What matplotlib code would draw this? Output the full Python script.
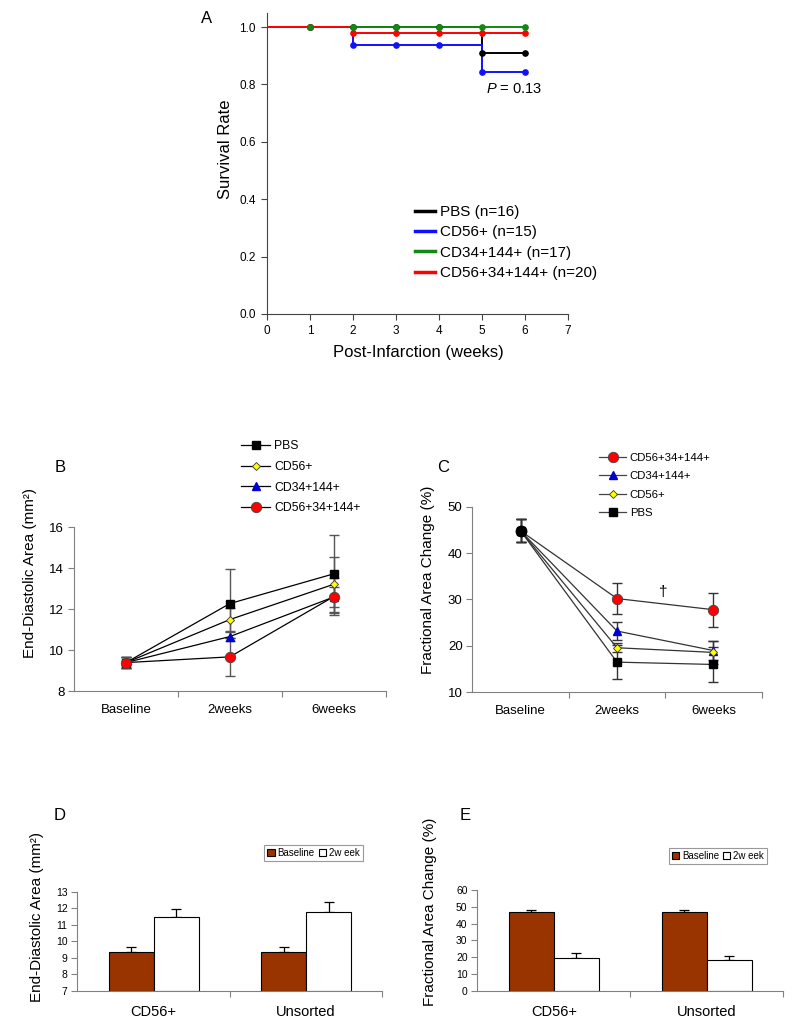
import matplotlib
matplotlib.use('Agg')
import matplotlib.pyplot as plt
from matplotlib.lines import Line2D

plt.rcParams['font.family'] = ['Liberation Sans', 'DejaVu Sans']
plt.rcParams['mathtext.fontset'] = 'custom'
plt.rcParams['mathtext.rm'] = 'Liberation Sans'
plt.rcParams['mathtext.it'] = 'Liberation Sans:italic'

# ---------------- Data ----------------
# Panel A: Kaplan-Meier survival
weeks = [0, 1, 2, 3, 4, 5, 6]
surv_pbs = [1.0, 1.0, 1.0, 1.0, 1.0, 0.909, 0.909]
surv_cd56 = [1.0, 1.0, 0.9375, 0.9375, 0.9375, 0.844, 0.844]
surv_cd34 = [1.0, 1.0, 1.0, 1.0, 1.0, 1.0, 1.0]
surv_combo = [1.0, 1.0, 0.979, 0.979, 0.979, 0.979, 0.979]
surv_labels = ['PBS (n=16)', 'CD56+ (n=15)', 'CD34+144+ (n=17)', 'CD56+34+144+ (n=20)']

# Panels B, C: time course
timepoints = ['Baseline', '2weeks', '6weeks']
group_names = ['PBS', 'CD56+', 'CD34+144+', 'CD56+34+144+']

eda_pbs = [9.4, 12.28, 13.73]
eda_pbs_err = [0.27, 1.67, 1.9]
eda_cd56 = [9.4, 11.5, 13.22]
eda_cd56_err = [0.27, 0.55, 1.35]
eda_cd34 = [9.4, 10.67, 12.6]
eda_cd34_err = [0.27, 0.2, 0.5]
eda_combo = [9.4, 9.68, 12.62]
eda_combo_err = [0.27, 0.93, 0.9]

fac_pbs = [44.8, 16.5, 16.0]
fac_pbs_err = [2.5, 3.6, 3.8]
fac_cd56 = [44.8, 19.6, 18.6]
fac_cd56_err = [2.5, 1.0, 2.5]
fac_cd34 = [44.8, 23.2, 19.0]
fac_cd34_err = [2.5, 1.9, 2.0]
fac_combo = [44.8, 30.2, 27.8]
fac_combo_err = [2.5, 3.3, 3.7]

# Panels D, E: bars
bar_groups = ['CD56+', 'Unsorted']
bar_series = ['Baseline', '2w eek']
d_baseline = [9.35, 9.35]
d_baseline_err = [0.27, 0.27]
d_2week = [11.48, 11.75]
d_2week_err = [0.5, 0.6]
e_baseline = [46.6, 46.6]
e_baseline_err = [1.3, 1.3]
e_2week = [19.6, 18.4]
e_2week_err = [2.9, 2.5]

# ---------------- Figure ----------------
W, H = 800, 1034
fig = plt.figure(figsize=(W / 100, H / 100), dpi=100)


def fx(x):
    return x / W


def fy(y):
    return 1 - y / H


def axes_px(left, top, right, bottom):
    return fig.add_axes([fx(left), fy(bottom), (right - left) / W, (bottom - top) / H])


GRAY = '#808080'

# ---------------- Panel A ----------------
axA = axes_px(267, 12.7, 568, 314)
surv_sets = [surv_pbs, surv_cd56, surv_cd34, surv_combo]
surv_colors = ['black', '#1010ff', '#108a10', '#ff0000']
line_z = [2, 3, 4, 5]
marker_z = [6, 7, 9, 8]
for i, (vals, col) in enumerate(zip(surv_sets, surv_colors)):
    axA.plot(weeks, vals, drawstyle='steps-post', color=col, lw=1.4, zorder=line_z[i])
    axA.plot(weeks[1:], vals[1:], ls='none', marker='o', ms=3.8, color=col,
             zorder=marker_z[i], clip_on=False)
axA.set_xlim(0, 7)
axA.set_ylim(0, 1.05)
axA.set_xticks(range(0, 8))
axA.set_yticks([0.0, 0.2, 0.4, 0.6, 0.8, 1.0])
axA.set_yticklabels(['0.0', '0.2', '0.4', '0.6', '0.8', '1.0'])
for s in ['top', 'right']:
    axA.spines[s].set_visible(False)
for s in ['left', 'bottom']:
    axA.spines[s].set_color('#444444')
    axA.spines[s].set_linewidth(0.8)
axA.tick_params(direction='out', length=4, width=0.8, color='#444444', labelsize=8.5, pad=4)
handlesA = [Line2D([], [], color=c, lw=2.5) for c in surv_colors]
axA.legend(handlesA, surv_labels, loc='upper left', bbox_to_anchor=(fx(415), fy(205)),
           bbox_transform=fig.transFigure, frameon=False, fontsize=11,
           handlelength=1.3, handletextpad=0.35, labelspacing=0.42, borderpad=0, borderaxespad=0)
fig.text(fx(486), fy(89.3), r'$P$ = 0.13', fontsize=10.5, ha='left', va='center')
fig.text(fx(225), fy(149), 'Survival Rate', fontsize=12, rotation=90, ha='center', va='center')
fig.text(fx(418), fy(352), 'Post-Infarction (weeks)', fontsize=12, ha='center', va='center')
fig.text(fx(207), fy(18), 'A', fontsize=12, ha='center', va='center')


# ---------------- helpers for B/C ----------------
def style_category_axis(ax, ylim, yticks, n):
    ax.set_xlim(-0.5, n - 0.5)
    ax.set_ylim(*ylim)
    ax.set_yticks(yticks)
    ax.set_xticks(range(n))
    ax.set_xticks([i + 0.5 for i in range(n)], minor=True)
    for s in ['top', 'right']:
        ax.spines[s].set_visible(False)
    for s in ['left', 'bottom']:
        ax.spines[s].set_color(GRAY)
        ax.spines[s].set_linewidth(0.8)
    ax.tick_params(axis='x', which='major', length=0, pad=9)
    ax.tick_params(axis='x', which='minor', direction='out', length=4, width=0.8, color=GRAY)
    ax.tick_params(axis='y', direction='out', length=4, width=0.8, color=GRAY, pad=3)


markers = {'PBS': dict(marker='s', ms=5.5, mfc='black', mec='black'),
           'CD56+': dict(marker='D', ms=4.5, mfc='#ffff00', mec='#333333', mew=0.6),
           'CD34+144+': dict(marker='^', ms=5.5, mfc='#0000cc', mec='#0000cc'),
           'CD56+34+144+': dict(marker='o', ms=7.5, mfc='#ff0000', mec='#444444', mew=0.6)}

# ---------------- Panel B ----------------
axB = axes_px(74, 527.3, 385.7, 691.3)
x3 = list(range(len(timepoints)))
seriesB = [(eda_pbs, eda_pbs_err, 'PBS'), (eda_cd56, eda_cd56_err, 'CD56+'),
           (eda_cd34, eda_cd34_err, 'CD34+144+'), (eda_combo, eda_combo_err, 'CD56+34+144+')]
for k, (vals, err, name) in enumerate(seriesB):
    axB.errorbar(x3, vals, yerr=err, fmt='none', ecolor='#555555', elinewidth=1,
                 capsize=3.5, capthick=1, zorder=2 + k)
for k, (vals, err, name) in enumerate(seriesB):
    axB.plot(x3, vals, color='black', lw=0.9, zorder=10 + k, **markers[name])
style_category_axis(axB, (8, 16), [8, 10, 12, 14, 16], 3)
axB.set_xticklabels(timepoints)
axB.tick_params(labelsize=9.5)
handlesB = [Line2D([], [], color='black', lw=0.9, **markers[n]) for n in group_names]
axB.legend(handlesB, group_names, loc='upper left', bbox_to_anchor=(fx(241), fy(440)),
           bbox_transform=fig.transFigure, frameon=False, fontsize=8.8,
           handlelength=2.4, handletextpad=0.3, labelspacing=0.72, borderpad=0, borderaxespad=0)
fig.text(fx(30), fy(573), 'End-Diastolic Area (mm²)', fontsize=11, rotation=90, ha='center', va='center')
fig.text(fx(60), fy(468), 'B', fontsize=12, ha='center', va='center')

# ---------------- Panel C ----------------
axC = axes_px(472.3, 506.7, 761.7, 692.3)
seriesC = [(fac_combo, fac_combo_err, 'CD56+34+144+'), (fac_cd34, fac_cd34_err, 'CD34+144+'),
           (fac_cd56, fac_cd56_err, 'CD56+'), (fac_pbs, fac_pbs_err, 'PBS')]
for k, (vals, err, name) in enumerate(seriesC):
    axC.errorbar(x3, vals, yerr=err, fmt='none', ecolor='#333333', elinewidth=1,
                 capsize=3.5, capthick=1, zorder=2 + k)
for k, (vals, err, name) in enumerate(seriesC):
    axC.plot(x3, vals, color='#333333', lw=0.9, zorder=10 + k, **markers[name])
# baseline pooled point rendered as a black circle in the original
axC.plot(x3[0], fac_pbs[0], ls='none', marker='o', ms=7.5, mfc='black', mec='black', zorder=20)
style_category_axis(axC, (10, 50), [10, 20, 30, 40, 50], 3)
axC.set_xticklabels(timepoints)
axC.tick_params(labelsize=9.5)
legC_names = ['CD56+34+144+', 'CD34+144+', 'CD56+', 'PBS']
handlesC = [Line2D([], [], color='#444444', lw=0.9, **markers[n]) for n in legC_names]
axC.legend(handlesC, legC_names, loc='upper left', bbox_to_anchor=(fx(599), fy(452.5)),
           bbox_transform=fig.transFigure, frameon=False, fontsize=8.2,
           handlelength=2.4, handletextpad=0.3, labelspacing=0.75, borderpad=0, borderaxespad=0)
fig.text(fx(663.3), fy(591.7), '†', fontsize=11, ha='center', va='center')
fig.text(fx(428), fy(580), 'Fractional Area Change (%)', fontsize=11, rotation=90, ha='center', va='center')
fig.text(fx(443), fy(468), 'C', fontsize=12, ha='center', va='center')


# ---------------- Panels D, E ----------------
def bar_panel(ax, base, base_err, wk, wk_err, ylim, yticks, leg_center):
    x2 = list(range(len(bar_groups)))
    w = 0.295
    bottom = ylim[0]
    xb = [i - w / 2 for i in x2]
    xw = [i + w / 2 for i in x2]
    ax.bar(xb, [v - bottom for v in base], width=w, bottom=bottom,
           color='#993300', edgecolor='black', linewidth=0.8, label=bar_series[0], zorder=2)
    ax.bar(xw, [v - bottom for v in wk], width=w, bottom=bottom,
           color='white', edgecolor='black', linewidth=0.8, label=bar_series[1], zorder=2)
    ax.errorbar(xb, base, yerr=[[0] * len(base), base_err], fmt='none', ecolor='black',
                elinewidth=0.9, capsize=3.5, capthick=0.9, zorder=1)
    ax.errorbar(xw, wk, yerr=[[0] * len(wk), wk_err], fmt='none', ecolor='black',
                elinewidth=0.9, capsize=3.5, capthick=0.9, zorder=1)
    style_category_axis(ax, ylim, yticks, len(bar_groups))
    ax.set_xticklabels(bar_groups)
    ax.tick_params(axis='x', labelsize=10.5, pad=10)
    ax.tick_params(axis='y', labelsize=7.5)
    leg = ax.legend(loc='center', bbox_to_anchor=(fx(leg_center[0]), fy(leg_center[1])),
                    bbox_transform=fig.transFigure, ncol=2, fontsize=7, frameon=True,
                    fancybox=False, edgecolor=GRAY, handlelength=0.75, handleheight=0.75,
                    handletextpad=0.3, columnspacing=0.4, borderpad=0.35, borderaxespad=0)
    leg.get_frame().set_linewidth(0.8)


axD = axes_px(77.3, 891.7, 382.3, 990.7)
bar_panel(axD, d_baseline, d_baseline_err, d_2week, d_2week_err,
          (7, 13), [7, 8, 9, 10, 11, 12, 13], (313.5, 853))
fig.text(fx(36.7), fy(916.7), 'End-Diastolic Area (mm²)', fontsize=11, rotation=90, ha='center', va='center')
fig.text(fx(60), fy(815), 'D', fontsize=12, ha='center', va='center')

axE = axes_px(477.3, 890, 783.3, 990.7)
bar_panel(axE, e_baseline, e_baseline_err, e_2week, e_2week_err,
          (0, 60), [0, 10, 20, 30, 40, 50, 60], (718, 856))
fig.text(fx(430), fy(912), 'Fractional Area Change (%)', fontsize=11, rotation=90, ha='center', va='center')
fig.text(fx(465), fy(815), 'E', fontsize=12, ha='center', va='center')

fig.savefig('out.png', dpi=100)
